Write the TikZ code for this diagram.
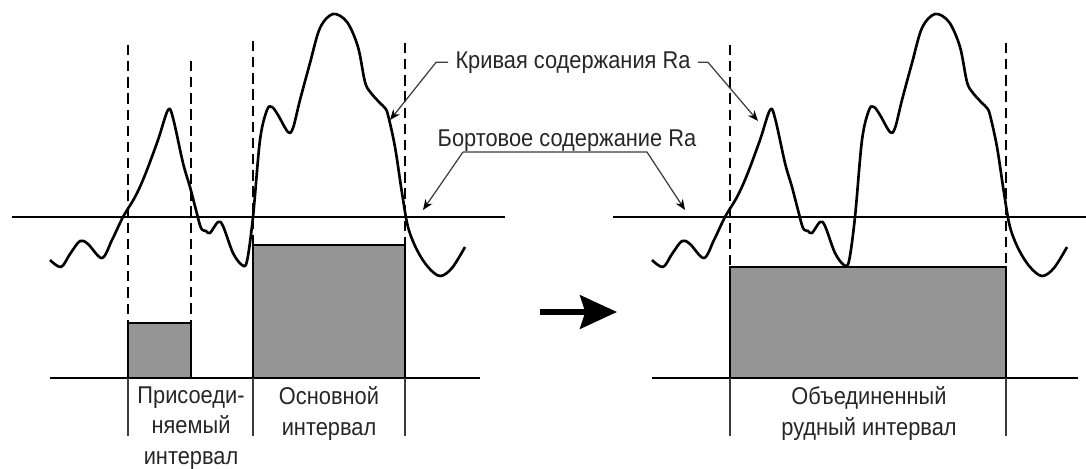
\documentclass[tikz,border=0pt]{standalone}
\usepackage{fontspec}
\setmainfont{Liberation Sans}[FakeStretch=0.9]
\usepackage{xcolor}
\usetikzlibrary{positioning, arrows.meta, calc}
\definecolor{ore-fill}{HTML}{959595}
\definecolor{ore-lead}{HTML}{3C3C3C}

\begin{document}
\begin{tikzpicture}[
    x=0.02cm, y=-0.02cm,
    curve/.style={black, line width=1.5pt, line join=round},
    level/.style={black, line width=1.4pt},
    bound/.style={black, line width=1.5pt, dash pattern=on 5.8pt off 3.4pt},
    orebox/.style={draw=black, fill=ore-fill, line width=1.4pt},
    tick/.style={ore-lead, line width=0.6pt},
    lead/.style={ore-lead, line width=0.7pt, -{Stealth[length=6pt, width=4.8pt, black]}},
    lbl/.style={font=\fontsize{13.8}{17.5}\selectfont, inner sep=0pt, text=black!85},
]
    \useasboundingbox (0,0) rectangle (1086,468);

    % Grade curves (same profile on both sides)
    \foreach \dx in {0, 602} {
        \draw[curve, shift={(\dx,0)}] plot[smooth, tension=0.55] coordinates {
            (50,260) (61,267) (70,254) (80,241) (88,244) (102,258) (112,240)
            (123,217) (135,197) (145,175) (158,140) (168,110) (173,118)
            (183,163) (190,187) (196,210) (201,228) (206,231) (210,233)
            (218,222) (223,226) (233,253) (242,265) (247,261) (253,217)
            (260,140) (267,110) (272,107) (278,115) (288,132) (293,128)
            (300,100) (310,63) (320,28) (333,14) (347,22) (358,47) (365,82)
            (371,93) (380,103) (385,108) (388,115) (395,147) (402,193)
            (408,227) (417,250) (428,267) (440,276) (452,268) (465,247)};
    }

    % Cut-off grade lines
    \draw[level] (12,217) -- (505,217);
    \draw[level] (613,217) -- (1086,217);

    % Depth axes
    \draw[level] (50,378) -- (480,378);
    \draw[level] (652,378) -- (1078,378);

    % Ore intervals, left
    \draw[orebox] (128,323) rectangle (191,378);
    \draw[orebox] (253,245) rectangle (405,378);
    \draw[bound] (128,45) -- (128,323);
    \draw[bound] (191,61) -- (191,323);
    \draw[bound] (253,41) -- (253,245);
    \draw[bound] (405,43) -- (405,245);

    % Ore interval, right
    \draw[orebox] (730,267) rectangle (1006,378);
    \draw[bound] (730,45) -- (730,267);
    \draw[bound] (1006,43) -- (1006,267);

    % Ticks under the axes
    \foreach \tx in {128, 253, 405, 730, 1006}
        \draw[tick] (\tx,378) -- (\tx,436);

    % Labels
    \node[lbl, anchor=base] (curveLbl) at (573,68) {Кривая содержания Ra};
    \node[lbl, anchor=base] (cutLbl) at (567,146) {Бортовое содержание Ra};
    \node[lbl, anchor=north, align=center] (addLbl) at (191,386)
        {Присоеди-\\няемый\\интервал};
    \node[lbl, anchor=north, align=center] (mainLbl) at (329,386)
        {Основной\\интервал};
    \node[lbl, anchor=north, align=center] (unionLbl) at (869,386)
        {Объединенный\\рудный интервал};

    % Leader arrows
    \coordinate (curveTipL) at (390,120);
    \coordinate (curveTipR) at (758,121);
    \coordinate (cutTipL) at (423,210);
    \coordinate (cutTipR) at (685,210);
    \coordinate (cutBarL) at (463,152);
    \coordinate (cutBarR) at (647,152);
    \draw[lead] ([xshift=-4pt]curveLbl.west) -- ++(-12,0) -- (curveTipL);
    \draw[lead] ([xshift=4pt]curveLbl.east) -- ++(10,0) -- (curveTipR);
    \draw[lead] (cutBarL) -- (cutTipL);
    \draw[lead] (cutBarL) -- (cutBarR) -- (cutTipR);

    % Transition arrow
    \coordinate (arrowFrom) at (540,312);
    \coordinate (arrowTo) at (617,312);
    \draw[line width=3.4pt, -{Stealth[length=21pt, width=19pt, inset=3pt]}]
        (arrowFrom) -- (arrowTo);
\end{tikzpicture}
\end{document}
